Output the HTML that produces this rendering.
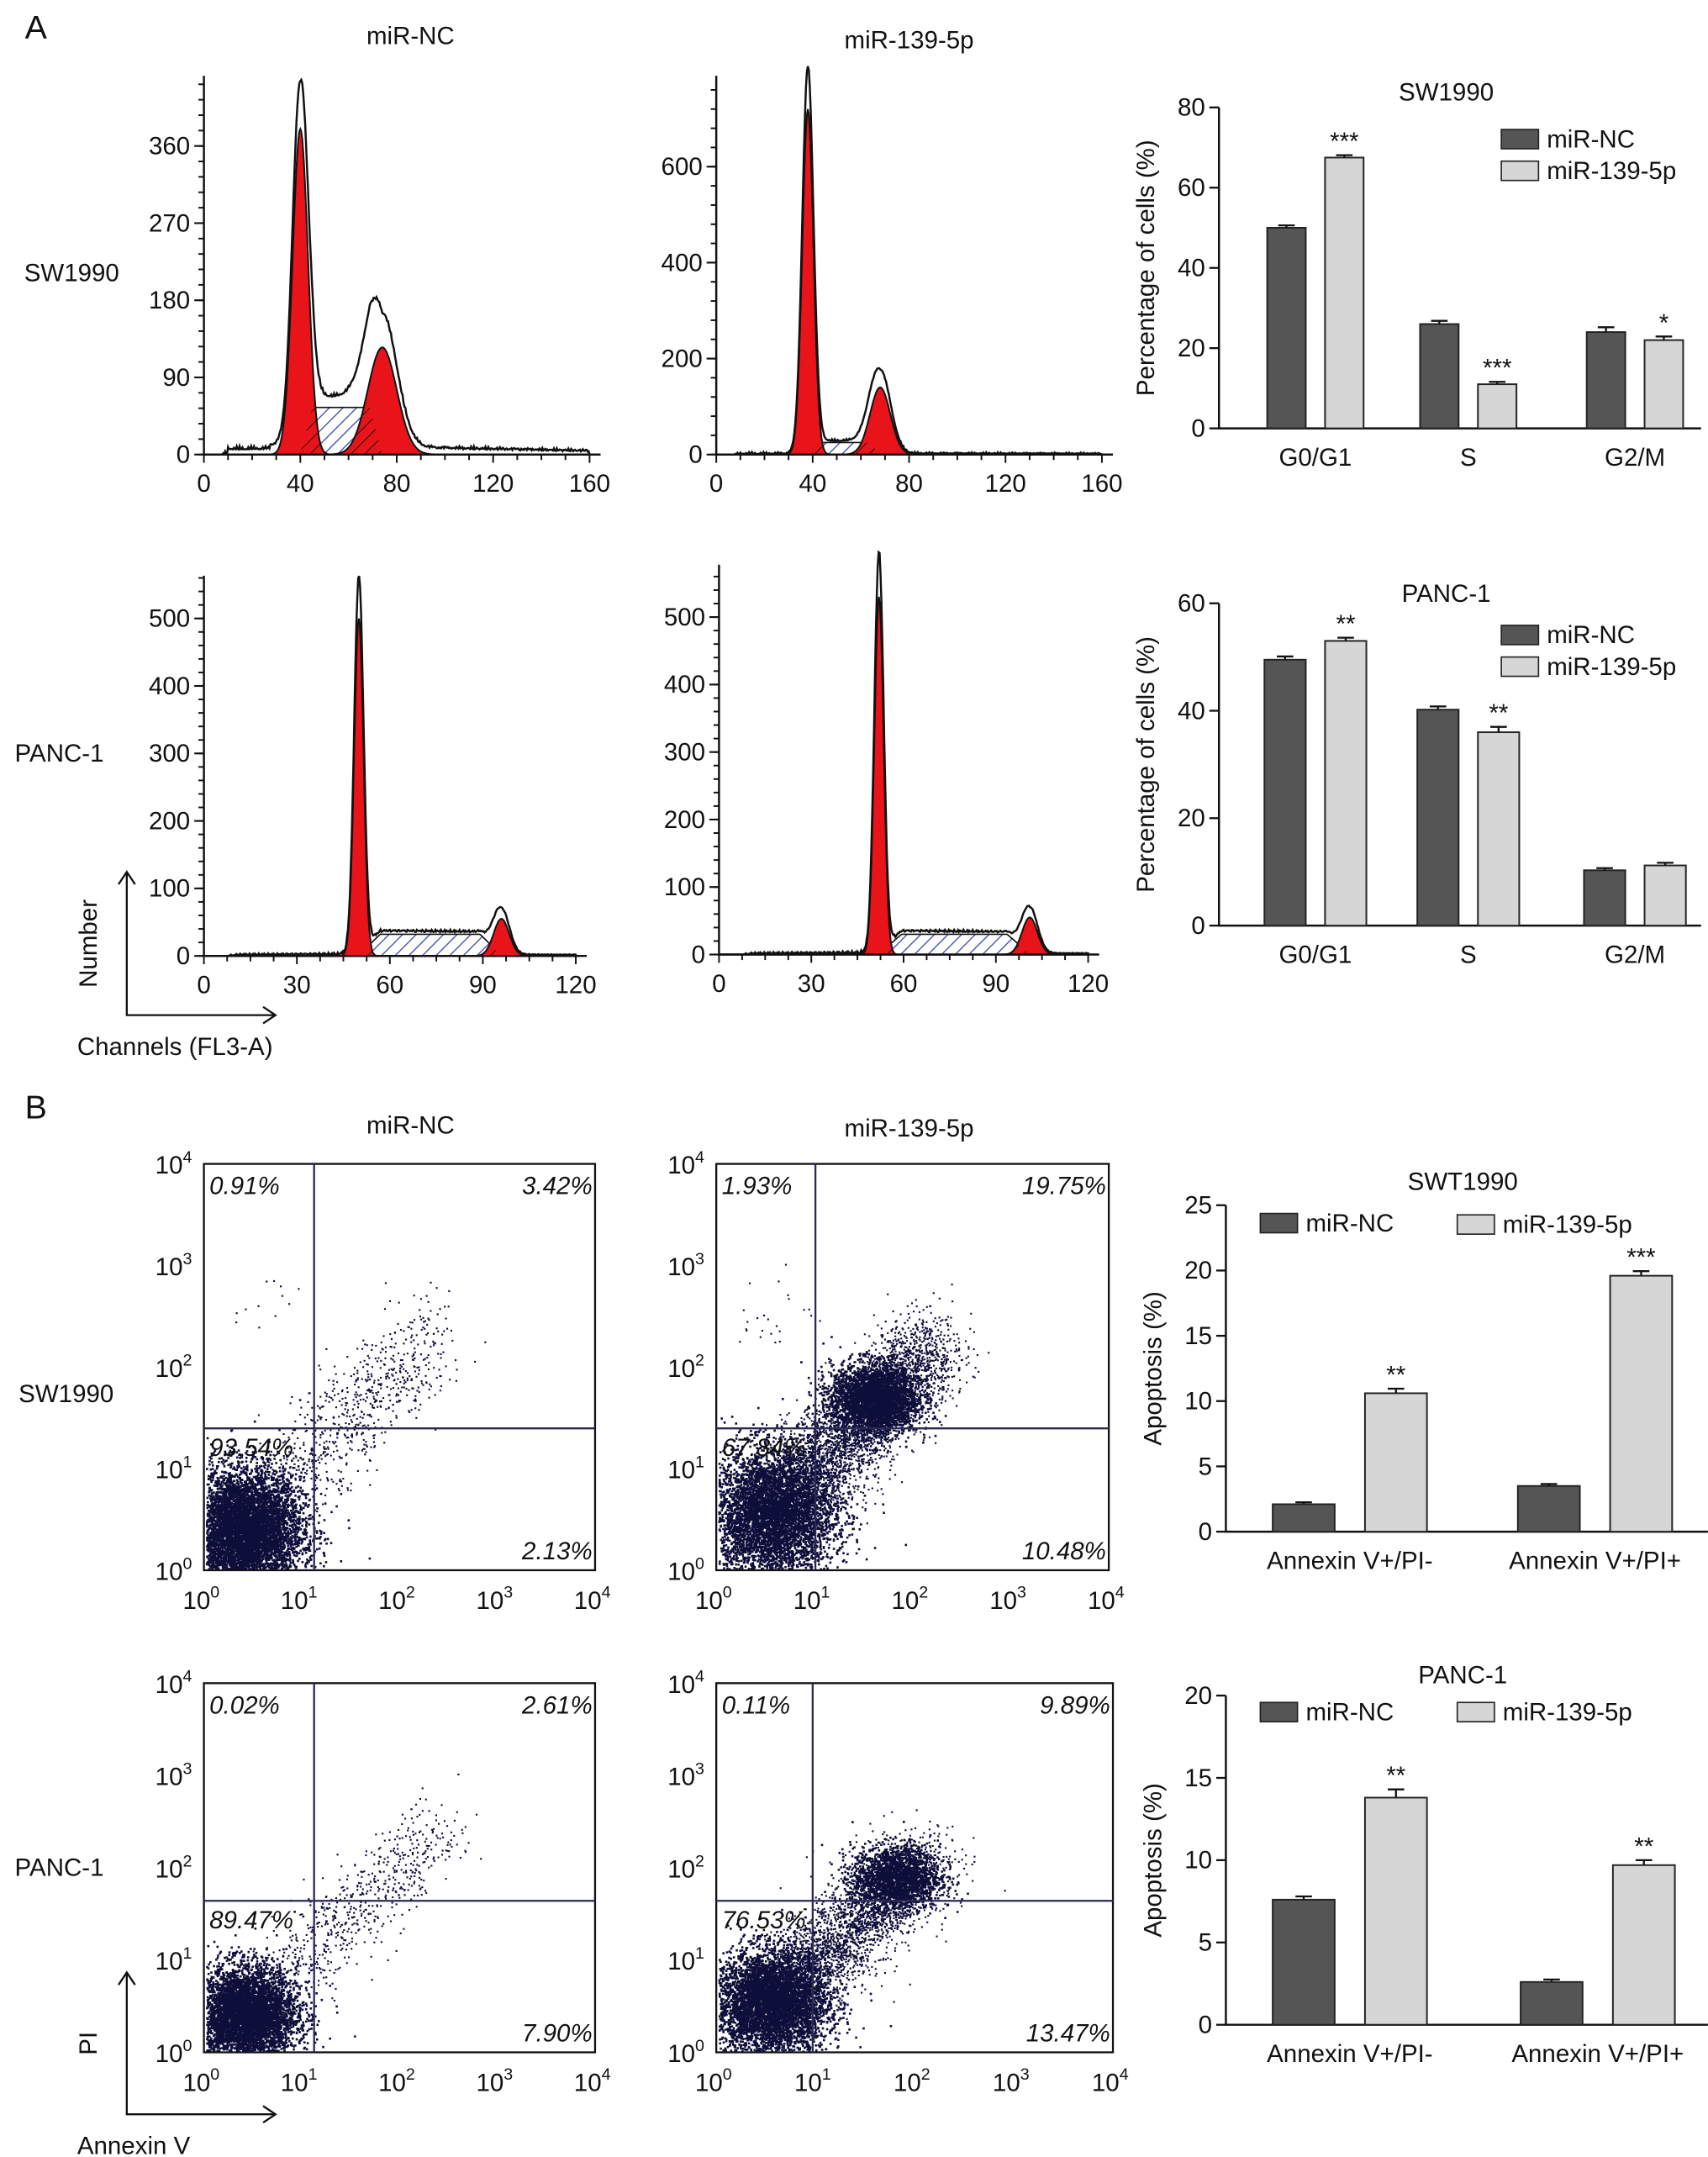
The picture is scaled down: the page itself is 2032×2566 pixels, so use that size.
<!DOCTYPE html>
<html><head><meta charset="utf-8"><style>
html,body{margin:0;padding:0;background:#fff}
svg{display:block}
text{font-family:"Liberation Sans",sans-serif;fill:#111}
</style></head><body>
<svg id="fig" width="2032" height="2566" viewBox="0 0 1240 1566" xmlns="http://www.w3.org/2000/svg">
<defs>
<pattern id="hatch" width="7" height="7" patternUnits="userSpaceOnUse" patternTransform="rotate(45)">
<rect width="7" height="7" fill="#fff"/><line x1="0" y1="0" x2="0" y2="7" stroke="#3a4aa8" stroke-width="1.6"/></pattern>
<pattern id="hatchk" width="7" height="7" patternUnits="userSpaceOnUse" patternTransform="rotate(45)">
<line x1="0" y1="0" x2="0" y2="7" stroke="#111" stroke-width="1.1"/></pattern>
</defs>
</svg>
<script>
// ---------- data ----------
const barCats1 = ["G0/G1","S","G2/M"];
const swNC = [50,26,24];
const sw139 = [67.5,11,22];
const swErr = [0.6,0.8,1.2];
const swErr2 = [0.6,0.6,0.9];
const swStars = ["***","***","*"];
const pNC = [49.5,40.2,10.3];
const p139 = [53,36,11.2];
const pErr = [0.6,0.6,0.4];
const pErr2 = [0.6,1,0.5];
const pStars = ["**","**",""];
const apoCats = ["Annexin V+/PI-","Annexin V+/PI+"];
const aSwNC = [2.1,3.5];
const aSw139 = [10.6,19.6];
const aSwStars = ["**","***"];
const aPNC = [7.6,2.6];
const aP139 = [13.8,9.7];
const aPStars = ["**","**"];
// histogram peaks: [G1 center, G1 height, G1 sigma, S level, G2 center, G2 height, G2 sigma, tail]
const h1 = [40,380,3.2,55,74,125,6,10];
const h2 = [38,720,2.3,25,68,140,4.2,2];
const h3 = [50,500,1.5,32,96,55,2.5,2];
const h4 = [52,530,1.5,30,101,55,2.5,2];
const quad1 = ["0.91%","3.42%","93.54%","2.13%"];
const quad2 = ["1.93%","19.75%","67.84%","10.48%"];
const quad3 = ["0.02%","2.61%","89.47%","7.90%"];
const quad4 = ["0.11%","9.89%","76.53%","13.47%"];

const svg=document.getElementById('fig');
const NS="http://www.w3.org/2000/svg";
function mk(tag,attrs,parent){const e=document.createElementNS(NS,tag);for(const k in attrs)e.setAttribute(k,attrs[k]);(parent||svg).appendChild(e);return e;}
function txt(x,y,s,size,anchor,parent,name){const t=mk('text',{x:x,y:y,'font-size':size,'text-anchor':anchor||'middle'},parent);t.textContent=s;


return t;}

txt(18,28,"A",24,'start',null,'panel-label-a');
txt(18,812,"B",24,'start',null,'panel-label-b');
txt(298,32,"miR-NC",18,'middle',null,'col-title-mir-nc');
txt(660,35,"miR-139-5p",18,'middle',null,'col-title-mir-139');
txt(298,823,"miR-NC",18,'middle',null,'col-title-mir-nc-b');
txt(660,825,"miR-139-5p",18,'middle',null,'col-title-mir-139-b');
txt(52,204,"SW1990",18,'middle',null,'row-label-sw1990');
txt(43,553,"PANC-1",18,'middle',null,'row-label-panc1');
txt(48,1018,"SW1990",18,'middle',null,'row-label-sw1990-b');
txt(43,1362,"PANC-1",18,'middle',null,'row-label-panc1-b');

// ---------- histograms ----------
function hist(p,x0,x1,xmax,xticks,y0,yPerUnit,yticks,ytop,name){
  const g=mk('g',{});
  
  
  const X=v=>x0+(v)*(x1-x0)/xmax, Y=v=>y0-v*yPerUnit;
  const [c1,a1,s1,sl,c2,a2,s2,tail]=p;
  const gau=(x,c,a,s)=>a*Math.exp(-0.5*((x-c)/s)**2);
  const sPh=x=>{ if(x<c1||x>c2) return 0; const t=(x-c1)/(c2-c1); return sl*Math.min(1,Math.sin(Math.PI*t)*2.2);};
  const bg=x=>(x<c1-4*s1?(x>10?tail*0.6:0):tail*Math.max(0,1-(x-c1)/(xmax*1.1)));
  const step=xmax/400;
  let pts=[];
  for(let x=0;x<=xmax;x+=step){
    const n=Math.sin(x*7.3)*1.5+Math.sin(x*3.1)*1.2+Math.sin(x*13.7)*1.3;
    const v=gau(x,c1,a1*1.12,s1)+gau(x,c2,a2*1.25,s2)+sPh(x)*1.05+bg(x)+(x>8?Math.abs(n):0);
    pts.push([X(x),Y(v)]);
  }
  const tot='M'+pts.map(q=>q[0].toFixed(1)+','+q[1].toFixed(1)).join(' L');
  const curve=(f,lo,hi)=>{let s='M'+X(lo)+','+y0;for(let x=lo;x<=hi;x+=step)s+=' L'+X(x).toFixed(1)+','+Y(f(x)).toFixed(1);return s+' L'+X(hi)+','+y0+'Z';};
  const o=mk('path',{d:tot+' L'+X(xmax)+','+y0+' L'+X(0)+','+y0+'Z',fill:'#fff',stroke:'#111','stroke-width':1.5},g);
  
  
  const sp1=mk('path',{d:curve(sPh,c1,c2),fill:'url(#hatch)',stroke:'#111','stroke-width':1},g);
  
  
  const r1=mk('path',{d:curve(x=>gau(x,c1,a1,s1),c1-4*s1,c1+4*s1),fill:'#e8141a',stroke:'#111','stroke-width':1.2},g);
  
  
  const r2=mk('path',{d:curve(x=>gau(x,c2,a2,s2),c2-4*s2,c2+4*s2),fill:'#e8141a',stroke:'#111','stroke-width':1.2},g);
  
  
  mk('path',{d:curve(x=>Math.min(gau(x,c1,a1,s1),sPh(x)),c1,c1+4*s1),fill:'url(#hatchk)',stroke:'none'},g);
  mk('path',{d:curve(x=>Math.min(gau(x,c2,a2,s2),sPh(x)),c2-4*s2,c2),fill:'url(#hatchk)',stroke:'none'},g);
  const ax=mk('path',{d:`M${x0},${ytop} V${y0} H${x1+8}`,fill:'none',stroke:'#111','stroke-width':1.5},g);
  
  
  for(let v=0;v<=xmax;v+=xmax/16){mk('line',{x1:X(v),x2:X(v),y1:y0,y2:y0+(Math.abs(v%(xticks[1]-xticks[0]))<0.01?6:4),stroke:'#111','stroke-width':1.2},g);}
  xticks.forEach(v=>txt(X(v),y0+27,String(v),18,'middle',g,'x-tick'));
  const ymaxv=(y0-ytop)/yPerUnit; const ystep=(yticks[1]-yticks[0])/5;
  for(let v=0;v<=ymaxv;v+=ystep){mk('line',{x1:x0-4,x2:x0,y1:Y(v),y2:Y(v),stroke:'#111','stroke-width':1.2},g);}
  yticks.forEach(v=>{mk('line',{x1:x0-7,x2:x0,y1:Y(v),y2:Y(v),stroke:'#111','stroke-width':1.3},g);txt(x0-10,Y(v)+6,String(v),18,'end',g,'y-tick');});
}
hist(h1,148,428,160,[0,40,80,120,160],330,224/360,[0,90,180,270,360],55,'histogram-sw1990-nc');
hist(h2,520,800,160,[0,40,80,120,160],330,209/600,[0,200,400,600],55,'histogram-sw1990-139');
hist(h3,148,418,120,[0,30,60,90,120],694,245/500,[0,100,200,300,400,500],418,'histogram-panc1-nc');
hist(h4,522,790,120,[0,30,60,90,120],693,245/500,[0,100,200,300,400,500],410,'histogram-panc1-139');

function axisArrows(x,yb,ytop,xr,l1,l2,name){
  const g=mk('g',{});
  
  
  mk('path',{d:`M${x},${ytop} V${yb} H${xr}`,fill:'none',stroke:'#111','stroke-width':1.4},g);
  mk('path',{d:`M${x-6},${ytop+9} L${x},${ytop} L${x+6},${ytop+9}`,fill:'none',stroke:'#111','stroke-width':1.4},g);
  mk('path',{d:`M${xr-9},${yb-6} L${xr},${yb} L${xr-9},${yb+6}`,fill:'none',stroke:'#111','stroke-width':1.4},g);
  const t=txt(0,0,l1,18,'middle',g,'axis-label-y');t.setAttribute('transform',`translate(${x-22},${(ytop+yb)/2}) rotate(-90)`);
  txt(x-36,yb+29,l2,18,'start',g,'axis-label-x');
}
axisArrows(92,737,633,200,"Number","Channels (FL3-A)",'axis-key-a');
axisArrows(92,1535,1432,200,"PI","Annexin V",'axis-key-b');

// ---------- bar charts ----------
function bars(cats,nc,tr,e1,e2,stars,ax0,y0,ytop,ymax,ystep,centers,bw,gap,title,tx,ty,legend,ylab,name){
  const g=mk('g',{});
  
  
  const Y=v=>y0-v*(y0-ytop)/ymax;
  const axl=mk('path',{d:`M${ax0},${ytop} V${y0} H${ax0+350}`,fill:'none',stroke:'#111','stroke-width':1.5},g);
  
  
  for(let v=0;v<=ymax+0.001;v+=ystep){mk('line',{x1:ax0-7,x2:ax0,y1:Y(v),y2:Y(v),stroke:'#111','stroke-width':1.4},g);txt(ax0-10,Y(v)+6,String(v),18,'end',g,'y-tick');}
  cats.forEach((c,i)=>{
    const cx=centers[i];
    [[nc,e1,'#555','#222',cx-gap/2-bw,'bar-mir-nc'],[tr,e2,'#d6d6d6','#222',cx+gap/2,'bar-mir-139']].forEach(([arr,err,col,sc,x,nm])=>{
      const r=mk('rect',{x:x,y:Y(arr[i]),width:bw,height:y0-Y(arr[i]),fill:col,stroke:sc,'stroke-width':1.2},g);
      
      
      const ey=Y(arr[i]+err[i]);
      mk('path',{d:`M${x+bw/2},${Y(arr[i])} V${ey} M${x+bw/2-6},${ey} H${x+bw/2+6}`,stroke:'#111','stroke-width':1.4,fill:'none'},g);
    });
    if(stars[i]) txt(cx+gap/2+bw/2,Y(tr[i]+e2[i])-4,stars[i],18,'middle',g,'significance-stars');
    txt(cx,y0+27,c,18,'middle',g,'x-category');
  });
  txt(tx,ty,title,18,'middle',g,'chart-title');
  const yl=txt(0,0,ylab,18,'middle',g,'y-axis-title');yl.setAttribute('transform',`translate(${ax0-47},${(ytop+y0)/2}) rotate(-90)`);
  legend.forEach(([x,y,col,lab])=>{
    const r=mk('rect',{x:x,y:y-12,width:27,height:14,fill:col,stroke:'#222','stroke-width':1},g);
    
    
    txt(x+33,y+1,lab,18,'start',g,'legend-entry');
  });
}
bars(barCats1,swNC,sw139,swErr,swErr2,swStars,885,311,78,80,20,[955,1066,1187],28,14,"SW1990",1050,73,
  [[1090,106,'#555','miR-NC'],[1090,129,'#d6d6d6','miR-139-5p']],"Percentage of cells (%)",'bar-chart-sw1990-cycle');
bars(barCats1,pNC,p139,pErr,pErr2,pStars,885,672,438,60,20,[955,1066,1187],30,14,"PANC-1",1050,437,
  [[1090,466,'#555','miR-NC'],[1090,489,'#d6d6d6','miR-139-5p']],"Percentage of cells (%)",'bar-chart-panc1-cycle');
bars(apoCats,aSwNC,aSw139,[0.15,0.15],[0.35,0.35],aSwStars,890,1112,875,25,5,[980,1158],45,22,"SWT1990",1062,864,
  [[915,893,'#555','miR-NC'],[1058,894,'#d6d6d6','miR-139-5p']],"Apoptosis (%)",'bar-chart-sw1990-apoptosis');
bars(apoCats,aPNC,aP139,[0.2,0.15],[0.5,0.3],aPStars,890,1470,1231,20,5,[980,1160],45,22,"PANC-1",1062,1222,
  [[915,1248,'#555','miR-NC'],[1058,1248,'#d6d6d6','miR-139-5p']],"Apoptosis (%)",'bar-chart-panc1-apoptosis');

// ---------- scatter plots ----------
let seed=12345;function rnd(){seed=(seed*1103515245+12345)%2147483648;return seed/2147483648;}
function gn(){return Math.sqrt(-2*Math.log(rnd()+1e-9))*Math.cos(2*Math.PI*rnd());}
// cl: [core n, diag n, core mean, core sd, diag start, diag len, diag slope, stray n, stray x, stray y, dense n, dense x, dense y]
function scatter(x0,x1,yb,yt,gx,gy,q,cl,name){
  const g=mk('g',{});
  
  
  const X=v=>x0+v*(x1-x0)/4, Y=v=>yb-v*(yb-yt)/4;
  let d='';
  const add=(lx,ly,s)=>{if(lx<0.02||ly<0.02||lx>3.98||ly>3.98)return;d+=`M${X(lx).toFixed(1)},${Y(ly).toFixed(1)}h${s}v${s}h-${s}z`;};
  for(let i=0;i<cl[0];i++)add(cl[2]+gn()*cl[3],cl[2]+gn()*cl[3],1.6);
  for(let i=0;i<cl[1];i++){const t=cl[4]+rnd()*cl[5];add(t+gn()*0.22,t*cl[6]+gn()*0.22,1.3);}
  for(let i=0;i<cl[7];i++)add(cl[8]+gn()*0.25,cl[9]+gn()*0.2,1.3);
  for(let i=0;i<cl[10];i++)add(cl[11]+gn()*0.22,cl[12]+gn()*0.17,1.6);
  const p=mk('path',{d:d,fill:'#0e0e3a'},g);
  
  
  const box=mk('rect',{x:x0,y:yt,width:x1-x0,height:yb-yt,fill:'none',stroke:'#111','stroke-width':1.4},g);
  
  
  const gate=mk('path',{d:`M${gx},${yt} V${yb} M${x0},${gy} H${x1}`,stroke:'#2a2a55','stroke-width':1.4,fill:'none'},g);
  
  
  for(let k=0;k<=4;k++){
    const tx=txt(X(k)-2,yb+28,'10',18,'middle',g,'x-tick');const s1=mk('tspan',{dy:-8,'font-size':12},tx);s1.textContent=k;
    const ty=txt(x0-22,Y(k)+7,'10',18,'middle',g,'y-tick');const s2=mk('tspan',{dy:-8,'font-size':12},ty);s2.textContent=k;
  }
  const lab=(x,y,s,a)=>{const t=txt(x,y,s,18,a,g,'quadrant-percent');t.setAttribute('font-style','italic');};
  lab(x0+4,yt+22,q[0],'start');lab(x1-2,yt+22,q[1],'end');lab(x0+4,gy+20,q[2],'start');lab(x1-2,yb-8,q[3],'end');
}
scatter(148,432,1140,845,228,1037,quad1,[9000,700,0.4,0.3,0.9,1.4,1.0,12,0.7,2.6,0,0,0],'scatter-sw1990-nc');
scatter(520,805,1140,845,592,1037,quad2,[6500,3500,0.55,0.32,0.7,1.5,1.0,25,0.6,2.5,3000,1.6,1.7],'scatter-sw1990-139');
scatter(148,432,1490,1222,228,1380,quad3,[9000,600,0.42,0.26,0.9,1.5,1.0,0,0,0,0,0,0],'scatter-panc1-nc');
scatter(520,808,1490,1222,590,1380,quad4,[6000,2500,0.55,0.28,0.8,1.3,1.0,0,0,0,1800,1.8,1.9],'scatter-panc1-139');
</script>
</body></html>
